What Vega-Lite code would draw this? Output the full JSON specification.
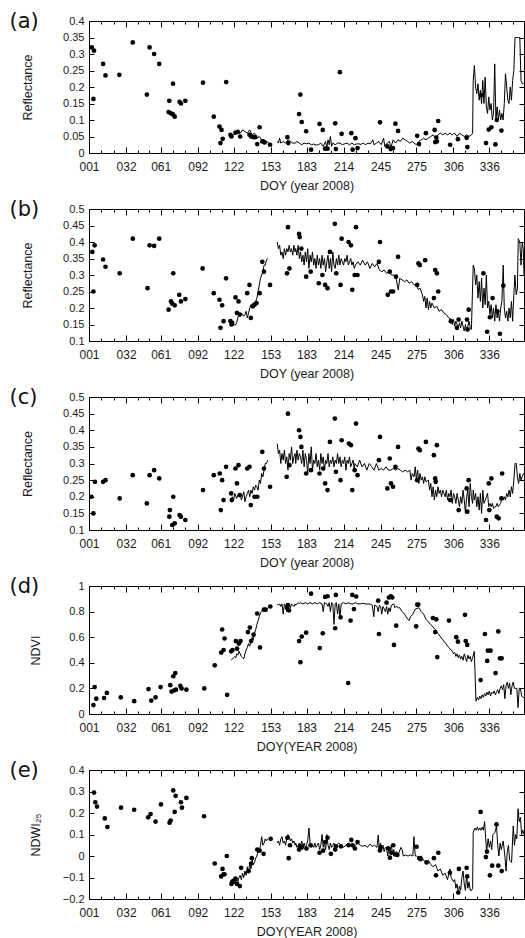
{
"$schema": "https://vega.github.io/schema/vega-lite/v6.json",
"padding": {"left": 8, "top": 9, "right": 2, "bottom": 5},
"background": "white",
"spacing": 56,
"bounds": "flush",
"config": {
 "font": "Liberation Sans",
 "view": {"stroke": "#000", "strokeWidth": 1},
 "axis": {"labelFont": "Liberation Sans", "labelFontSize": 11, "labelColor": "#1a1a1a", "titleFont": "Liberation Sans", "titleFontSize": 12.5, "titleFontWeight": "normal", "titleColor": "#1a1a1a", "domain": false, "gridColor": "#bdbdbd", "gridDash": [1, 2], "gridWidth": 1, "tickColor": "#000", "tickWidth": 1, "labelFlush": false, "labelOverlap": false},
 "axisTop": {"labels": false, "grid": false, "titleFont": "DejaVu Sans", "titleFontSize": 21, "titleFontWeight": "normal", "titleColor": "#111", "titleAngle": 0, "titleAlign": "left", "titleBaseline": "alphabetic", "titleX": -80, "titleY": 6},
 "axisRight": {"labels": false, "grid": false},
 "circle": {"size": 22, "opacity": 1, "color": "#000"},
 "line": {"color": "#000", "strokeWidth": 1, "clip": true}
},
"vconcat": [
 {"width": 435, "height": 132,
  "layer": [
   {"data": {"name": "a_line"}, "mark": "line",
    "encoding": {
     "x": {"field": "d", "type": "quantitative", "scale": {"domain": [1, 365], "nice": false, "zero": false}, "axis": {"orient": "top", "title": "(a)", "values": [1,11.33,21.67,32,41.67,51.33,61,71.33,81.67,92,102.01,112.01,122,132.33,142.67,153,163.01,173.01,183,193.33,203.67,214,224.33,234.67,245,255.01,265.01,275,285.33,295.67,306,316.01,326.01,336,346.01,356.01], "tickSize": {"condition": {"test": "datum.value % 1 === 0", "value": -6}, "value": -3}}},
     "y": {"field": "v", "type": "quantitative", "scale": {"domain": [0, 0.4], "nice": false, "zero": false}, "axis": {"orient": "right", "title": null, "values": [0,0.05,0.1,0.15,0.2,0.25,0.3,0.35,0.4], "tickSize": -5}},
     "detail": {"field": "s"}
    }},
   {"data": {"name": "a_pts"}, "mark": "circle",
    "encoding": {
     "x": {"field": "d", "type": "quantitative", "scale": {"domain": [1, 365], "nice": false, "zero": false}, "axis": {"orient": "bottom", "title": "DOY (year 2008)", "titlePadding": 4, "labelPadding": 14, "labelFontSize": 12, "values": [1,11.33,21.67,32,41.67,51.33,61,71.33,81.67,92,102.01,112.01,122,132.33,142.67,153,163.01,173.01,183,193.33,203.67,214,224.33,234.67,245,255.01,265.01,275,285.33,295.67,306,316.01,326.01,336,346.01,356.01], "labelExpr": "datum.value % 1 ? '' : (datum.value < 10 ? '00' : datum.value < 100 ? '0' : '') + datum.value", "tickSize": {"condition": {"test": "datum.value % 1 === 0", "value": -6}, "value": -3}, "gridOpacity": {"condition": {"test": "datum.value % 1 === 0", "value": 1}, "value": 0}}},
     "y": {"field": "v", "type": "quantitative", "scale": {"domain": [0, 0.4], "nice": false, "zero": false}, "axis": {"orient": "left", "title": "Reflectance", "titlePadding": 28, "labelPadding": 10, "format": "~g", "values": [0,0.05,0.1,0.15,0.2,0.25,0.3,0.35,0.4], "tickSize": -5}}
    }}
  ]},
 {"width": 435, "height": 132,
  "layer": [
   {"data": {"name": "b_line"}, "mark": "line",
    "encoding": {
     "x": {"field": "d", "type": "quantitative", "scale": {"domain": [1, 365], "nice": false, "zero": false}, "axis": {"orient": "top", "title": "(b)", "values": [1,11.33,21.67,32,41.67,51.33,61,71.33,81.67,92,102.01,112.01,122,132.33,142.67,153,163.01,173.01,183,193.33,203.67,214,224.33,234.67,245,255.01,265.01,275,285.33,295.67,306,316.01,326.01,336,346.01,356.01], "tickSize": {"condition": {"test": "datum.value % 1 === 0", "value": -6}, "value": -3}}},
     "y": {"field": "v", "type": "quantitative", "scale": {"domain": [0.1, 0.5], "nice": false, "zero": false}, "axis": {"orient": "right", "title": null, "values": [0.1,0.15,0.2,0.25,0.3,0.35,0.4,0.45,0.5], "tickSize": -5}},
     "detail": {"field": "s"}
    }},
   {"data": {"name": "b_pts"}, "mark": "circle",
    "encoding": {
     "x": {"field": "d", "type": "quantitative", "scale": {"domain": [1, 365], "nice": false, "zero": false}, "axis": {"orient": "bottom", "title": "DOY (year 2008)", "titlePadding": 4, "labelPadding": 14, "labelFontSize": 12, "values": [1,11.33,21.67,32,41.67,51.33,61,71.33,81.67,92,102.01,112.01,122,132.33,142.67,153,163.01,173.01,183,193.33,203.67,214,224.33,234.67,245,255.01,265.01,275,285.33,295.67,306,316.01,326.01,336,346.01,356.01], "labelExpr": "datum.value % 1 ? '' : (datum.value < 10 ? '00' : datum.value < 100 ? '0' : '') + datum.value", "tickSize": {"condition": {"test": "datum.value % 1 === 0", "value": -6}, "value": -3}, "gridOpacity": {"condition": {"test": "datum.value % 1 === 0", "value": 1}, "value": 0}}},
     "y": {"field": "v", "type": "quantitative", "scale": {"domain": [0.1, 0.5], "nice": false, "zero": false}, "axis": {"orient": "left", "title": "Reflectance", "titlePadding": 28, "labelPadding": 10, "format": "~g", "values": [0.1,0.15,0.2,0.25,0.3,0.35,0.4,0.45,0.5], "tickSize": -5}}
    }}
  ]},
 {"width": 435, "height": 133,
  "layer": [
   {"data": {"name": "c_line"}, "mark": "line",
    "encoding": {
     "x": {"field": "d", "type": "quantitative", "scale": {"domain": [1, 365], "nice": false, "zero": false}, "axis": {"orient": "top", "title": "(c)", "values": [1,11.33,21.67,32,41.67,51.33,61,71.33,81.67,92,102.01,112.01,122,132.33,142.67,153,163.01,173.01,183,193.33,203.67,214,224.33,234.67,245,255.01,265.01,275,285.33,295.67,306,316.01,326.01,336,346.01,356.01], "tickSize": {"condition": {"test": "datum.value % 1 === 0", "value": -6}, "value": -3}}},
     "y": {"field": "v", "type": "quantitative", "scale": {"domain": [0.1, 0.5], "nice": false, "zero": false}, "axis": {"orient": "right", "title": null, "values": [0.1,0.15,0.2,0.25,0.3,0.35,0.4,0.45,0.5], "tickSize": -5}},
     "detail": {"field": "s"}
    }},
   {"data": {"name": "c_pts"}, "mark": "circle",
    "encoding": {
     "x": {"field": "d", "type": "quantitative", "scale": {"domain": [1, 365], "nice": false, "zero": false}, "axis": {"orient": "bottom", "title": "DOY (year 2008)", "titlePadding": 4, "labelPadding": 14, "labelFontSize": 12, "values": [1,11.33,21.67,32,41.67,51.33,61,71.33,81.67,92,102.01,112.01,122,132.33,142.67,153,163.01,173.01,183,193.33,203.67,214,224.33,234.67,245,255.01,265.01,275,285.33,295.67,306,316.01,326.01,336,346.01,356.01], "labelExpr": "datum.value % 1 ? '' : (datum.value < 10 ? '00' : datum.value < 100 ? '0' : '') + datum.value", "tickSize": {"condition": {"test": "datum.value % 1 === 0", "value": -6}, "value": -3}, "gridOpacity": {"condition": {"test": "datum.value % 1 === 0", "value": 1}, "value": 0}}},
     "y": {"field": "v", "type": "quantitative", "scale": {"domain": [0.1, 0.5], "nice": false, "zero": false}, "axis": {"orient": "left", "title": "Reflectance", "titlePadding": 28, "labelPadding": 10, "format": "~g", "values": [0.1,0.15,0.2,0.25,0.3,0.35,0.4,0.45,0.5], "tickSize": -5}}
    }}
  ]},
 {"width": 435, "height": 128,
  "layer": [
   {"data": {"name": "d_line"}, "mark": "line",
    "encoding": {
     "x": {"field": "d", "type": "quantitative", "scale": {"domain": [1, 365], "nice": false, "zero": false}, "axis": {"orient": "top", "title": "(d)", "values": [1,11.33,21.67,32,41.67,51.33,61,71.33,81.67,92,102.01,112.01,122,132.33,142.67,153,163.01,173.01,183,193.33,203.67,214,224.33,234.67,245,255.01,265.01,275,285.33,295.67,306,316.01,326.01,336,346.01,356.01], "tickSize": {"condition": {"test": "datum.value % 1 === 0", "value": -6}, "value": -3}}},
     "y": {"field": "v", "type": "quantitative", "scale": {"domain": [0, 1], "nice": false, "zero": false}, "axis": {"orient": "right", "title": null, "values": [0,0.2,0.4,0.6,0.8,1], "tickSize": -5}},
     "detail": {"field": "s"}
    }},
   {"data": {"name": "d_pts"}, "mark": "circle",
    "encoding": {
     "x": {"field": "d", "type": "quantitative", "scale": {"domain": [1, 365], "nice": false, "zero": false}, "axis": {"orient": "bottom", "title": "DOY(YEAR 2008)", "titlePadding": 4, "labelPadding": 14, "labelFontSize": 12, "values": [1,11.33,21.67,32,41.67,51.33,61,71.33,81.67,92,102.01,112.01,122,132.33,142.67,153,163.01,173.01,183,193.33,203.67,214,224.33,234.67,245,255.01,265.01,275,285.33,295.67,306,316.01,326.01,336,346.01,356.01], "labelExpr": "datum.value % 1 ? '' : (datum.value < 10 ? '00' : datum.value < 100 ? '0' : '') + datum.value", "tickSize": {"condition": {"test": "datum.value % 1 === 0", "value": -6}, "value": -3}, "gridOpacity": {"condition": {"test": "datum.value % 1 === 0", "value": 1}, "value": 0}}},
     "y": {"field": "v", "type": "quantitative", "scale": {"domain": [0, 1], "nice": false, "zero": false}, "axis": {"orient": "left", "title": "NDVI", "titlePadding": 26, "labelPadding": 10, "format": "~g", "values": [0,0.2,0.4,0.6,0.8,1], "tickSize": -5}}
    }}
  ]},
 {"width": 435, "height": 129,
  "layer": [
   {"data": {"name": "e_line"}, "mark": "line",
    "encoding": {
     "x": {"field": "d", "type": "quantitative", "scale": {"domain": [1, 365], "nice": false, "zero": false}, "axis": {"orient": "top", "title": "(e)", "values": [1,11.33,21.67,32,41.67,51.33,61,71.33,81.67,92,102.01,112.01,122,132.33,142.67,153,163.01,173.01,183,193.33,203.67,214,224.33,234.67,245,255.01,265.01,275,285.33,295.67,306,316.01,326.01,336,346.01,356.01], "tickSize": {"condition": {"test": "datum.value % 1 === 0", "value": -6}, "value": -3}}},
     "y": {"field": "v", "type": "quantitative", "scale": {"domain": [-0.2, 0.4], "nice": false, "zero": false}, "axis": {"orient": "right", "title": null, "values": [-0.2,-0.1,0,0.1,0.2,0.3,0.4], "tickSize": -5}},
     "detail": {"field": "s"}
    }},
   {"data": {"name": "e_pts"}, "mark": "circle",
    "encoding": {
     "x": {"field": "d", "type": "quantitative", "scale": {"domain": [1, 365], "nice": false, "zero": false}, "axis": {"orient": "bottom", "title": "DOY(YEAR 2008)", "titlePadding": 4, "labelPadding": 14, "labelFontSize": 12, "values": [1,11.33,21.67,32,41.67,51.33,61,71.33,81.67,92,102.01,112.01,122,132.33,142.67,153,163.01,173.01,183,193.33,203.67,214,224.33,234.67,245,255.01,265.01,275,285.33,295.67,306,316.01,326.01,336,346.01,356.01], "labelExpr": "datum.value % 1 ? '' : (datum.value < 10 ? '00' : datum.value < 100 ? '0' : '') + datum.value", "tickSize": {"condition": {"test": "datum.value % 1 === 0", "value": -6}, "value": -3}, "gridOpacity": {"condition": {"test": "datum.value % 1 === 0", "value": 1}, "value": 0}}},
     "y": {"field": "v", "type": "quantitative", "scale": {"domain": [-0.2, 0.4], "nice": false, "zero": false}, "axis": {"orient": "left", "title": "NDWI₂₅", "titlePadding": 20, "labelPadding": 10, "format": "~g", "values": [-0.2,-0.1,0,0.1,0.2,0.3,0.4], "tickSize": -5}}
    }}
  ]}
],
"datasets": {
 "a_pts": [{"d":3.3,"v":0.32},{"d":5.2,"v":0.31},{"d":4.7,"v":0.164},{"d":12.8,"v":0.27},{"d":14.8,"v":0.235},{"d":26.4,"v":0.237},{"d":37.6,"v":0.335},{"d":49.4,"v":0.177},{"d":51.7,"v":0.32},{"d":55.5,"v":0.3},{"d":59.8,"v":0.27},{"d":68.2,"v":0.158},{"d":67.6,"v":0.124},{"d":69.6,"v":0.12},{"d":71.3,"v":0.21},{"d":71.3,"v":0.117},{"d":72.7,"v":0.11},{"d":76.8,"v":0.155},{"d":77.9,"v":0.15},{"d":81.6,"v":0.158},{"d":96.4,"v":0.213},{"d":105.4,"v":0.11},{"d":110.2,"v":0.08},{"d":111,"v":0.03},{"d":111.9,"v":0.07},{"d":112.9,"v":0.043},{"d":115.8,"v":0.215},{"d":119.4,"v":0.055},{"d":120.2,"v":0.05},{"d":123.6,"v":0.062},{"d":125.5,"v":0.064},{"d":127.5,"v":0.05},{"d":135.3,"v":0.055},{"d":136.6,"v":0.05},{"d":138.7,"v":0.048},{"d":140.1,"v":0.048},{"d":141.8,"v":0.027},{"d":143.8,"v":0.078},{"d":146,"v":0.035},{"d":147.9,"v":0.032},{"d":152.5,"v":0.025},{"d":167,"v":0.048},{"d":167.8,"v":0.03},{"d":176.8,"v":0.118},{"d":177.9,"v":0.177},{"d":179,"v":0.094},{"d":182.7,"v":0.066},{"d":186.8,"v":0.01},{"d":193.9,"v":0.088},{"d":196.6,"v":0.07},{"d":198.6,"v":0.013},{"d":200.6,"v":0.013},{"d":207,"v":0.09},{"d":207.6,"v":0.012},{"d":210.9,"v":0.245},{"d":212.4,"v":0.058},{"d":220.5,"v":0.06},{"d":221.6,"v":0.01},{"d":224,"v":0.045},{"d":225.7,"v":0.015},{"d":244.5,"v":0.093},{"d":250.7,"v":0.02},{"d":253.5,"v":0.012},{"d":255.4,"v":0.015},{"d":257.4,"v":0.089},{"d":259.6,"v":0.067},{"d":275.6,"v":0.052},{"d":277.2,"v":0.027},{"d":282.9,"v":0.06},{"d":290.2,"v":0.07},{"d":290.7,"v":0.033},{"d":291.6,"v":0.047},{"d":292.1,"v":0.035},{"d":293.2,"v":0.097},{"d":303.2,"v":0.025},{"d":309.7,"v":0.042},{"d":317,"v":0.046},{"d":317.6,"v":0.018},{"d":329.1,"v":0.175},{"d":333.2,"v":0.03},{"d":335.5,"v":0.071},{"d":337.7,"v":0.078},{"d":341.1,"v":0.026},{"d":342.2,"v":0.1},{"d":346.1,"v":0.068}],
 "a_line": [{"d":120,"v":0.05,"s":1},{"d":122,"v":0.055,"s":1},{"d":124,"v":0.06,"s":1},{"d":125.5,"v":0.065,"s":1},{"d":127.5,"v":0.06,"s":1},{"d":129.5,"v":0.07,"s":1},{"d":131.5,"v":0.065,"s":1},{"d":133.5,"v":0.06,"s":1},{"d":135.5,"v":0.07,"s":1},{"d":137.5,"v":0.055,"s":1},{"d":139.5,"v":0.06,"s":1},{"d":141.5,"v":0.045,"s":1},{"d":143.5,"v":0.05,"s":1},{"d":145.5,"v":0.04,"s":1},{"d":147.5,"v":0.04,"s":1},{"d":149.5,"v":0.035,"s":1},{"d":151.5,"v":0.03,"s":1},
  {"d":158.5,"v":0.035,"s":2},{"d":159.5,"v":0.03,"s":2},{"d":160.5,"v":0.045,"s":2},{"d":161.5,"v":0.03,"s":2},{"d":163.5,"v":0.035,"s":2},{"d":165.5,"v":0.03,"s":2},{"d":167.5,"v":0.04,"s":2},{"d":169.5,"v":0.035,"s":2},{"d":171.5,"v":0.03,"s":2},{"d":173.5,"v":0.03,"s":2},{"d":175,"v":0.035,"s":2},{"d":177,"v":0.03,"s":2},{"d":179,"v":0.025,"s":2},{"d":181,"v":0.03,"s":2},{"d":183,"v":0.028,"s":2},{"d":185,"v":0.03,"s":2},{"d":187,"v":0.025,"s":2},{"d":189,"v":0.027,"s":2},{"d":191,"v":0.024,"s":2},{"d":193,"v":0.025,"s":2},{"d":195,"v":0.03,"s":2},{"d":197,"v":0.02,"s":2},{"d":199,"v":0.035,"s":2},{"d":200,"v":0.015,"s":2},{"d":201,"v":0.04,"s":2},{"d":202,"v":0.025,"s":2},{"d":203,"v":0.05,"s":2},{"d":204,"v":0.02,"s":2},{"d":205,"v":0.03,"s":2},{"d":207,"v":0.025,"s":2},{"d":209,"v":0.03,"s":2},{"d":211,"v":0.03,"s":2},{"d":213,"v":0.025,"s":2},{"d":215,"v":0.028,"s":2},{"d":217,"v":0.03,"s":2},{"d":219,"v":0.025,"s":2},{"d":221,"v":0.03,"s":2},{"d":223,"v":0.025,"s":2},{"d":224.5,"v":0.027,"s":2},{"d":226.5,"v":0.028,"s":2},{"d":228.5,"v":0.026,"s":2},{"d":230.5,"v":0.03,"s":2},{"d":232.5,"v":0.025,"s":2},{"d":234.5,"v":0.03,"s":2},{"d":236.5,"v":0.028,"s":2},{"d":238.5,"v":0.04,"s":2},{"d":239.5,"v":0.025,"s":2},{"d":241.5,"v":0.03,"s":2},{"d":243.5,"v":0.035,"s":2},{"d":245.5,"v":0.025,"s":2},{"d":247.5,"v":0.045,"s":2},{"d":248.5,"v":0.02,"s":2},{"d":250.5,"v":0.03,"s":2},{"d":252.5,"v":0.035,"s":2},{"d":253.5,"v":0.015,"s":2},{"d":255.5,"v":0.04,"s":2},{"d":257.5,"v":0.03,"s":2},{"d":259.5,"v":0.04,"s":2},{"d":261.5,"v":0.035,"s":2},{"d":263.5,"v":0.045,"s":2},{"d":265.5,"v":0.04,"s":2},{"d":267.5,"v":0.035,"s":2},{"d":269.5,"v":0.03,"s":2},{"d":271.5,"v":0.035,"s":2},{"d":273,"v":0.03,"s":2},{"d":275,"v":0.025,"s":2},{"d":277,"v":0.035,"s":2},{"d":279,"v":0.04,"s":2},{"d":281,"v":0.045,"s":2},{"d":283,"v":0.04,"s":2},{"d":285,"v":0.045,"s":2},{"d":287,"v":0.05,"s":2},{"d":289,"v":0.055,"s":2},{"d":291,"v":0.045,"s":2},{"d":293,"v":0.055,"s":2},{"d":295,"v":0.06,"s":2},{"d":297,"v":0.055,"s":2},{"d":299,"v":0.06,"s":2},{"d":301,"v":0.055,"s":2},{"d":303,"v":0.06,"s":2},{"d":305,"v":0.055,"s":2},{"d":307,"v":0.06,"s":2},{"d":309,"v":0.05,"s":2},{"d":311,"v":0.06,"s":2},{"d":313,"v":0.055,"s":2},{"d":315,"v":0.05,"s":2},{"d":317,"v":0.055,"s":2},{"d":319,"v":0.05,"s":2},{"d":321,"v":0.055,"s":2},{"d":322,"v":0.06,"s":2},{"d":322.5,"v":0.22,"s":2},{"d":323.5,"v":0.265,"s":2},{"d":324.5,"v":0.2,"s":2},{"d":325.5,"v":0.18,"s":2},{"d":326.5,"v":0.21,"s":2},{"d":327.5,"v":0.16,"s":2},{"d":328.5,"v":0.19,"s":2},{"d":329.5,"v":0.15,"s":2},{"d":330.5,"v":0.22,"s":2},{"d":331.5,"v":0.15,"s":2},{"d":332.5,"v":0.23,"s":2},{"d":333.5,"v":0.14,"s":2},{"d":334.5,"v":0.12,"s":2},{"d":335.5,"v":0.17,"s":2},{"d":336.5,"v":0.13,"s":2},{"d":337.5,"v":0.15,"s":2},{"d":338.5,"v":0.1,"s":2},{"d":339.5,"v":0.12,"s":2},{"d":340.5,"v":0.27,"s":2},{"d":341.5,"v":0.1,"s":2},{"d":342.5,"v":0.14,"s":2},{"d":343.5,"v":0.1,"s":2},{"d":344.5,"v":0.13,"s":2},{"d":345.5,"v":0.1,"s":2},{"d":346.5,"v":0.12,"s":2},{"d":347.5,"v":0.1,"s":2},{"d":348.5,"v":0.15,"s":2},{"d":349.5,"v":0.24,"s":2},{"d":350.5,"v":0.2,"s":2},{"d":351.5,"v":0.16,"s":2},{"d":352.5,"v":0.15,"s":2},{"d":353.5,"v":0.2,"s":2},{"d":354.5,"v":0.16,"s":2},{"d":355.5,"v":0.22,"s":2},{"d":356.5,"v":0.25,"s":2},{"d":357.5,"v":0.35,"s":2},{"d":358.5,"v":0.35,"s":2},{"d":359.5,"v":0.35,"s":2},{"d":360.5,"v":0.35,"s":2},{"d":361.5,"v":0.35,"s":2},{"d":362.5,"v":0.22,"s":2},{"d":363.5,"v":0.21,"s":2},{"d":364.5,"v":0.21,"s":2},{"d":365,"v":0.21,"s":2}],
 "b_pts": [{"d":3.8,"v":0.37},{"d":5.7,"v":0.39},{"d":4.7,"v":0.25},{"d":12.8,"v":0.347},{"d":14.8,"v":0.325},{"d":26.7,"v":0.305},{"d":37.6,"v":0.41},{"d":50,"v":0.26},{"d":51.7,"v":0.39},{"d":55.5,"v":0.388},{"d":59.8,"v":0.41},{"d":67.6,"v":0.195},{"d":69.6,"v":0.22},{"d":70.7,"v":0.213},{"d":71.5,"v":0.305},{"d":72.7,"v":0.208},{"d":76.5,"v":0.24},{"d":77.9,"v":0.22},{"d":81.6,"v":0.227},{"d":96.1,"v":0.32},{"d":105.4,"v":0.245},{"d":110.2,"v":0.225},{"d":111,"v":0.14},{"d":112.4,"v":0.208},{"d":113.6,"v":0.16},{"d":115.7,"v":0.29},{"d":119.4,"v":0.16},{"d":120.2,"v":0.15},{"d":120.8,"v":0.155},{"d":123.6,"v":0.232},{"d":124.8,"v":0.185},{"d":126.1,"v":0.22},{"d":127.2,"v":0.18},{"d":133.4,"v":0.245},{"d":135.3,"v":0.27},{"d":136.4,"v":0.17},{"d":138.1,"v":0.205},{"d":139.5,"v":0.21},{"d":141.2,"v":0.215},{"d":143.8,"v":0.245},{"d":146,"v":0.34},{"d":147.4,"v":0.31},{"d":152.5,"v":0.27},{"d":166.7,"v":0.305},{"d":167.5,"v":0.445},{"d":168.7,"v":0.32},{"d":176.8,"v":0.425},{"d":177.3,"v":0.415},{"d":178.7,"v":0.38},{"d":182.7,"v":0.295},{"d":186.5,"v":0.31},{"d":193.3,"v":0.275},{"d":196.3,"v":0.3},{"d":198.6,"v":0.27},{"d":200.6,"v":0.26},{"d":202.6,"v":0.37},{"d":206.7,"v":0.455},{"d":207.9,"v":0.305},{"d":211.5,"v":0.27},{"d":212.4,"v":0.41},{"d":218.2,"v":0.4},{"d":220.2,"v":0.39},{"d":221.3,"v":0.255},{"d":223.3,"v":0.3},{"d":224.4,"v":0.445},{"d":225.7,"v":0.3},{"d":243.6,"v":0.34},{"d":244.5,"v":0.4},{"d":251,"v":0.24},{"d":252.7,"v":0.31},{"d":253.7,"v":0.25},{"d":255.4,"v":0.25},{"d":257.9,"v":0.295},{"d":259.6,"v":0.355},{"d":275.6,"v":0.27},{"d":276.7,"v":0.335},{"d":277.8,"v":0.33},{"d":282.3,"v":0.345},{"d":289.6,"v":0.23},{"d":290.7,"v":0.315},{"d":292.1,"v":0.305},{"d":293.2,"v":0.25},{"d":303.8,"v":0.16},{"d":308.9,"v":0.14},{"d":310.3,"v":0.165},{"d":317.3,"v":0.165},{"d":317.8,"v":0.135},{"d":318.7,"v":0.195},{"d":331,"v":0.305},{"d":334.2,"v":0.128},{"d":336.5,"v":0.172},{"d":338.7,"v":0.23},{"d":342.7,"v":0.19},{"d":344.8,"v":0.122},{"d":347.7,"v":0.268}],
 "b_line": [{"d":120,"v":0.15,"s":1},{"d":122,"v":0.148,"s":1},{"d":124,"v":0.15,"s":1},{"d":124.5,"v":0.155,"s":1},{"d":125.5,"v":0.17,"s":1},{"d":126.5,"v":0.18,"s":1},{"d":127.5,"v":0.175,"s":1},{"d":128.5,"v":0.185,"s":1},{"d":129.5,"v":0.18,"s":1},{"d":130.5,"v":0.175,"s":1},{"d":131.5,"v":0.18,"s":1},{"d":132.5,"v":0.19,"s":1},{"d":133.5,"v":0.17,"s":1},{"d":134.5,"v":0.185,"s":1},{"d":135.5,"v":0.2,"s":1},{"d":136.5,"v":0.21,"s":1},{"d":137.5,"v":0.2,"s":1},{"d":138.5,"v":0.215,"s":1},{"d":139.5,"v":0.21,"s":1},{"d":140.5,"v":0.22,"s":1},{"d":141.5,"v":0.23,"s":1},{"d":142.5,"v":0.25,"s":1},{"d":143.5,"v":0.27,"s":1},{"d":144.5,"v":0.29,"s":1},{"d":145.5,"v":0.3,"s":1},{"d":146.5,"v":0.31,"s":1},{"d":147.5,"v":0.33,"s":1},{"d":148.5,"v":0.33,"s":1},{"d":149.5,"v":0.345,"s":1},{"d":150.5,"v":0.35,"s":1},
  {"d":158.5,"v":0.4,"s":2},{"d":159.5,"v":0.38,"s":2},{"d":160.5,"v":0.39,"s":2},{"d":161.5,"v":0.36,"s":2},{"d":162.5,"v":0.37,"s":2},{"d":163.5,"v":0.35,"s":2},{"d":164.5,"v":0.38,"s":2},{"d":165.5,"v":0.36,"s":2},{"d":166.5,"v":0.38,"s":2},{"d":167.5,"v":0.37,"s":2},{"d":168.5,"v":0.39,"s":2},{"d":169.5,"v":0.37,"s":2},{"d":170.5,"v":0.38,"s":2},{"d":171.5,"v":0.36,"s":2},{"d":172.5,"v":0.39,"s":2},{"d":173.5,"v":0.37,"s":2},{"d":174,"v":0.38,"s":2},{"d":175,"v":0.36,"s":2},{"d":176,"v":0.39,"s":2},{"d":177,"v":0.35,"s":2},{"d":178,"v":0.37,"s":2},{"d":179,"v":0.34,"s":2},{"d":180,"v":0.36,"s":2},{"d":181,"v":0.33,"s":2},{"d":182,"v":0.37,"s":2},{"d":183,"v":0.34,"s":2},{"d":184,"v":0.38,"s":2},{"d":185,"v":0.32,"s":2},{"d":186,"v":0.36,"s":2},{"d":187,"v":0.34,"s":2},{"d":188,"v":0.37,"s":2},{"d":189,"v":0.33,"s":2},{"d":190,"v":0.35,"s":2},{"d":191,"v":0.32,"s":2},{"d":192,"v":0.36,"s":2},{"d":193,"v":0.33,"s":2},{"d":194,"v":0.35,"s":2},{"d":195,"v":0.32,"s":2},{"d":196,"v":0.36,"s":2},{"d":197,"v":0.33,"s":2},{"d":198,"v":0.35,"s":2},{"d":199,"v":0.31,"s":2},{"d":200,"v":0.34,"s":2},{"d":201,"v":0.36,"s":2},{"d":202,"v":0.32,"s":2},{"d":203,"v":0.35,"s":2},{"d":204,"v":0.31,"s":2},{"d":205,"v":0.37,"s":2},{"d":206,"v":0.33,"s":2},{"d":207,"v":0.32,"s":2},{"d":208,"v":0.35,"s":2},{"d":209,"v":0.33,"s":2},{"d":210,"v":0.36,"s":2},{"d":211,"v":0.33,"s":2},{"d":212,"v":0.35,"s":2},{"d":213,"v":0.34,"s":2},{"d":214,"v":0.33,"s":2},{"d":215,"v":0.35,"s":2},{"d":216,"v":0.34,"s":2},{"d":217,"v":0.36,"s":2},{"d":218,"v":0.33,"s":2},{"d":219,"v":0.34,"s":2},{"d":220,"v":0.35,"s":2},{"d":221,"v":0.33,"s":2},{"d":222,"v":0.34,"s":2},{"d":223,"v":0.32,"s":2},{"d":224,"v":0.33,"s":2},{"d":226,"v":0.34,"s":2},{"d":228,"v":0.33,"s":2},{"d":230,"v":0.345,"s":2},{"d":232,"v":0.33,"s":2},{"d":234,"v":0.34,"s":2},{"d":236,"v":0.32,"s":2},{"d":238,"v":0.335,"s":2},{"d":240,"v":0.325,"s":2},{"d":242,"v":0.335,"s":2},{"d":244,"v":0.315,"s":2},{"d":246,"v":0.31,"s":2},{"d":248,"v":0.315,"s":2},{"d":250,"v":0.305,"s":2},{"d":252,"v":0.31,"s":2},{"d":254,"v":0.3,"s":2},{"d":256,"v":0.3,"s":2},{"d":258,"v":0.29,"s":2},{"d":259.8,"v":0.255,"s":2},{"d":261,"v":0.29,"s":2},{"d":263,"v":0.285,"s":2},{"d":265,"v":0.28,"s":2},{"d":267,"v":0.285,"s":2},{"d":269,"v":0.275,"s":2},{"d":271,"v":0.28,"s":2},{"d":273,"v":0.27,"s":2},{"d":275,"v":0.27,"s":2},{"d":276.5,"v":0.256,"s":2},{"d":278,"v":0.26,"s":2},{"d":280,"v":0.24,"s":2},{"d":281,"v":0.22,"s":2},{"d":282,"v":0.235,"s":2},{"d":283,"v":0.2,"s":2},{"d":284,"v":0.23,"s":2},{"d":285,"v":0.195,"s":2},{"d":286,"v":0.22,"s":2},{"d":287,"v":0.2,"s":2},{"d":288,"v":0.215,"s":2},{"d":290,"v":0.2,"s":2},{"d":292,"v":0.205,"s":2},{"d":294,"v":0.19,"s":2},{"d":296,"v":0.195,"s":2},{"d":298,"v":0.185,"s":2},{"d":300,"v":0.18,"s":2},{"d":302,"v":0.17,"s":2},{"d":304,"v":0.165,"s":2},{"d":305,"v":0.15,"s":2},{"d":306,"v":0.165,"s":2},{"d":307,"v":0.145,"s":2},{"d":308,"v":0.16,"s":2},{"d":309,"v":0.15,"s":2},{"d":310,"v":0.14,"s":2},{"d":311,"v":0.155,"s":2},{"d":312,"v":0.14,"s":2},{"d":313,"v":0.16,"s":2},{"d":314,"v":0.145,"s":2},{"d":315,"v":0.13,"s":2},{"d":316,"v":0.15,"s":2},{"d":317,"v":0.13,"s":2},{"d":318,"v":0.145,"s":2},{"d":319,"v":0.16,"s":2},{"d":320,"v":0.14,"s":2},{"d":321,"v":0.135,"s":2},{"d":322.5,"v":0.33,"s":2},{"d":323.5,"v":0.32,"s":2},{"d":324.5,"v":0.27,"s":2},{"d":325.5,"v":0.3,"s":2},{"d":326.5,"v":0.23,"s":2},{"d":327.5,"v":0.28,"s":2},{"d":328.5,"v":0.22,"s":2},{"d":329.5,"v":0.29,"s":2},{"d":330.5,"v":0.2,"s":2},{"d":331.5,"v":0.26,"s":2},{"d":332.5,"v":0.21,"s":2},{"d":333.5,"v":0.3,"s":2},{"d":334.5,"v":0.2,"s":2},{"d":335.5,"v":0.22,"s":2},{"d":336.5,"v":0.18,"s":2},{"d":337.5,"v":0.21,"s":2},{"d":338.5,"v":0.17,"s":2},{"d":339.5,"v":0.2,"s":2},{"d":340.5,"v":0.16,"s":2},{"d":341.5,"v":0.21,"s":2},{"d":342.5,"v":0.17,"s":2},{"d":343.5,"v":0.19,"s":2},{"d":344.5,"v":0.16,"s":2},{"d":345.5,"v":0.2,"s":2},{"d":346.5,"v":0.22,"s":2},{"d":347.6,"v":0.33,"s":2},{"d":348.5,"v":0.2,"s":2},{"d":349.5,"v":0.17,"s":2},{"d":350.5,"v":0.19,"s":2},{"d":351.5,"v":0.16,"s":2},{"d":352.5,"v":0.2,"s":2},{"d":353.5,"v":0.17,"s":2},{"d":354.5,"v":0.22,"s":2},{"d":355.5,"v":0.16,"s":2},{"d":356.5,"v":0.24,"s":2},{"d":357.4,"v":0.3,"s":2},{"d":358.5,"v":0.24,"s":2},{"d":359.5,"v":0.26,"s":2},{"d":360.2,"v":0.41,"s":2},{"d":361.5,"v":0.4,"s":2},{"d":362.5,"v":0.33,"s":2},{"d":363.5,"v":0.4,"s":2},{"d":364.4,"v":0.38,"s":2},{"d":365,"v":0.3,"s":2}],
 "c_pts": [{"d":3,"v":0.2},{"d":4.7,"v":0.15},{"d":6,"v":0.245},{"d":12.8,"v":0.245},{"d":14.8,"v":0.25},{"d":26.7,"v":0.195},{"d":37.6,"v":0.265},{"d":49.4,"v":0.18},{"d":51.7,"v":0.265},{"d":55.5,"v":0.28},{"d":59.8,"v":0.255},{"d":68.2,"v":0.14},{"d":68.7,"v":0.16},{"d":70.7,"v":0.115},{"d":71.5,"v":0.2},{"d":72.7,"v":0.12},{"d":76.8,"v":0.145},{"d":77.9,"v":0.14},{"d":81.6,"v":0.13},{"d":96.4,"v":0.22},{"d":105.4,"v":0.265},{"d":110.4,"v":0.27},{"d":111.3,"v":0.16},{"d":112.4,"v":0.25},{"d":113.6,"v":0.19},{"d":115.7,"v":0.29},{"d":120,"v":0.21},{"d":120.5,"v":0.19},{"d":123.6,"v":0.285},{"d":124.8,"v":0.24},{"d":126.1,"v":0.295},{"d":127.2,"v":0.205},{"d":133.4,"v":0.285},{"d":135.3,"v":0.29},{"d":136.4,"v":0.175},{"d":139.5,"v":0.2},{"d":141.8,"v":0.2},{"d":146,"v":0.335},{"d":147.4,"v":0.285},{"d":152.5,"v":0.23},{"d":166.4,"v":0.26},{"d":167.5,"v":0.45},{"d":168.7,"v":0.295},{"d":176.8,"v":0.4},{"d":177.9,"v":0.38},{"d":178.7,"v":0.35},{"d":182.7,"v":0.27},{"d":186.8,"v":0.28},{"d":193.9,"v":0.27},{"d":196.9,"v":0.285},{"d":198.6,"v":0.24},{"d":200.6,"v":0.22},{"d":202.6,"v":0.365},{"d":206.7,"v":0.435},{"d":207.6,"v":0.275},{"d":211.5,"v":0.25},{"d":212.4,"v":0.37},{"d":218.5,"v":0.36},{"d":220.2,"v":0.355},{"d":221.3,"v":0.22},{"d":223.3,"v":0.28},{"d":224.4,"v":0.42},{"d":225.7,"v":0.265},{"d":243.6,"v":0.31},{"d":244.5,"v":0.38},{"d":250.7,"v":0.225},{"d":252.7,"v":0.315},{"d":253.7,"v":0.24},{"d":255.4,"v":0.23},{"d":257.4,"v":0.29},{"d":259.6,"v":0.35},{"d":275.6,"v":0.25},{"d":276.7,"v":0.345},{"d":277.8,"v":0.34},{"d":282.9,"v":0.365},{"d":289.6,"v":0.325},{"d":290.7,"v":0.255},{"d":291.1,"v":0.245},{"d":292.1,"v":0.355},{"d":303.2,"v":0.19},{"d":310.3,"v":0.16},{"d":317,"v":0.225},{"d":317.6,"v":0.155},{"d":318.7,"v":0.25},{"d":333.2,"v":0.13},{"d":335.5,"v":0.24},{"d":336,"v":0.16},{"d":337.7,"v":0.255},{"d":342.2,"v":0.14},{"d":343.8,"v":0.135},{"d":346.1,"v":0.195},{"d":346.7,"v":0.27}],
 "c_line": [{"d":120,"v":0.195,"s":1},{"d":121,"v":0.2,"s":1},{"d":122,"v":0.19,"s":1},{"d":123,"v":0.21,"s":1},{"d":124,"v":0.2,"s":1},{"d":124.5,"v":0.195,"s":1},{"d":125.5,"v":0.205,"s":1},{"d":126.5,"v":0.2,"s":1},{"d":127.5,"v":0.21,"s":1},{"d":128.5,"v":0.19,"s":1},{"d":129.5,"v":0.2,"s":1},{"d":130.5,"v":0.215,"s":1},{"d":131.5,"v":0.185,"s":1},{"d":132.5,"v":0.2,"s":1},{"d":133.5,"v":0.21,"s":1},{"d":134.5,"v":0.22,"s":1},{"d":135.5,"v":0.2,"s":1},{"d":136.5,"v":0.22,"s":1},{"d":137.5,"v":0.21,"s":1},{"d":138.5,"v":0.23,"s":1},{"d":139.5,"v":0.22,"s":1},{"d":140.5,"v":0.235,"s":1},{"d":141.5,"v":0.23,"s":1},{"d":142.5,"v":0.22,"s":1},{"d":143.5,"v":0.25,"s":1},{"d":144.5,"v":0.24,"s":1},{"d":145.5,"v":0.27,"s":1},{"d":146.5,"v":0.26,"s":1},{"d":147.5,"v":0.28,"s":1},{"d":148.5,"v":0.3,"s":1},{"d":149.5,"v":0.3,"s":1},{"d":150.5,"v":0.31,"s":1},
  {"d":158.5,"v":0.36,"s":2},{"d":159.5,"v":0.33,"s":2},{"d":160.5,"v":0.34,"s":2},{"d":161.5,"v":0.3,"s":2},{"d":162.5,"v":0.33,"s":2},{"d":163.5,"v":0.31,"s":2},{"d":164.5,"v":0.34,"s":2},{"d":165.5,"v":0.3,"s":2},{"d":166.5,"v":0.32,"s":2},{"d":167.5,"v":0.28,"s":2},{"d":168.5,"v":0.33,"s":2},{"d":169.5,"v":0.31,"s":2},{"d":170.5,"v":0.35,"s":2},{"d":171.5,"v":0.3,"s":2},{"d":172.5,"v":0.32,"s":2},{"d":173.5,"v":0.33,"s":2},{"d":174,"v":0.3,"s":2},{"d":175,"v":0.34,"s":2},{"d":176,"v":0.31,"s":2},{"d":177,"v":0.33,"s":2},{"d":178,"v":0.32,"s":2},{"d":179,"v":0.3,"s":2},{"d":180,"v":0.34,"s":2},{"d":181,"v":0.29,"s":2},{"d":182,"v":0.33,"s":2},{"d":183,"v":0.31,"s":2},{"d":184,"v":0.27,"s":2},{"d":185,"v":0.33,"s":2},{"d":186,"v":0.3,"s":2},{"d":187,"v":0.35,"s":2},{"d":188,"v":0.28,"s":2},{"d":189,"v":0.31,"s":2},{"d":190,"v":0.3,"s":2},{"d":191,"v":0.33,"s":2},{"d":192,"v":0.29,"s":2},{"d":193,"v":0.31,"s":2},{"d":194,"v":0.28,"s":2},{"d":195,"v":0.33,"s":2},{"d":196,"v":0.3,"s":2},{"d":197,"v":0.32,"s":2},{"d":198,"v":0.28,"s":2},{"d":199,"v":0.31,"s":2},{"d":200,"v":0.3,"s":2},{"d":201,"v":0.33,"s":2},{"d":202,"v":0.29,"s":2},{"d":203,"v":0.31,"s":2},{"d":204,"v":0.3,"s":2},{"d":205,"v":0.32,"s":2},{"d":206,"v":0.29,"s":2},{"d":207,"v":0.31,"s":2},{"d":208,"v":0.3,"s":2},{"d":209,"v":0.33,"s":2},{"d":210,"v":0.3,"s":2},{"d":211,"v":0.32,"s":2},{"d":212,"v":0.29,"s":2},{"d":213,"v":0.31,"s":2},{"d":214,"v":0.3,"s":2},{"d":215,"v":0.32,"s":2},{"d":216,"v":0.28,"s":2},{"d":217,"v":0.31,"s":2},{"d":218,"v":0.3,"s":2},{"d":219,"v":0.32,"s":2},{"d":220,"v":0.29,"s":2},{"d":221,"v":0.3,"s":2},{"d":222,"v":0.31,"s":2},{"d":223,"v":0.28,"s":2},{"d":223.5,"v":0.3,"s":2},{"d":225.5,"v":0.29,"s":2},{"d":227.5,"v":0.31,"s":2},{"d":229.5,"v":0.29,"s":2},{"d":231.5,"v":0.3,"s":2},{"d":233.5,"v":0.28,"s":2},{"d":235.5,"v":0.3,"s":2},{"d":237.5,"v":0.29,"s":2},{"d":239.5,"v":0.28,"s":2},{"d":241.5,"v":0.3,"s":2},{"d":243.5,"v":0.28,"s":2},{"d":245.5,"v":0.285,"s":2},{"d":247.5,"v":0.28,"s":2},{"d":249.5,"v":0.29,"s":2},{"d":251.5,"v":0.28,"s":2},{"d":253.5,"v":0.28,"s":2},{"d":255.5,"v":0.285,"s":2},{"d":257.5,"v":0.28,"s":2},{"d":259.5,"v":0.285,"s":2},{"d":261.5,"v":0.28,"s":2},{"d":263.5,"v":0.275,"s":2},{"d":265.5,"v":0.28,"s":2},{"d":267.5,"v":0.275,"s":2},{"d":269.5,"v":0.28,"s":2},{"d":270.5,"v":0.25,"s":2},{"d":271.5,"v":0.27,"s":2},{"d":273,"v":0.26,"s":2},{"d":274,"v":0.29,"s":2},{"d":275,"v":0.25,"s":2},{"d":276,"v":0.28,"s":2},{"d":277,"v":0.24,"s":2},{"d":278,"v":0.27,"s":2},{"d":279,"v":0.25,"s":2},{"d":280,"v":0.26,"s":2},{"d":281,"v":0.24,"s":2},{"d":282,"v":0.26,"s":2},{"d":283,"v":0.245,"s":2},{"d":285,"v":0.25,"s":2},{"d":286,"v":0.22,"s":2},{"d":287,"v":0.24,"s":2},{"d":288,"v":0.2,"s":2},{"d":289,"v":0.23,"s":2},{"d":290,"v":0.19,"s":2},{"d":291,"v":0.22,"s":2},{"d":292,"v":0.2,"s":2},{"d":293,"v":0.23,"s":2},{"d":294,"v":0.21,"s":2},{"d":295,"v":0.22,"s":2},{"d":296,"v":0.2,"s":2},{"d":297,"v":0.22,"s":2},{"d":298,"v":0.21,"s":2},{"d":299,"v":0.2,"s":2},{"d":300,"v":0.22,"s":2},{"d":301,"v":0.19,"s":2},{"d":302,"v":0.21,"s":2},{"d":303,"v":0.2,"s":2},{"d":304,"v":0.22,"s":2},{"d":305,"v":0.18,"s":2},{"d":306,"v":0.21,"s":2},{"d":307,"v":0.2,"s":2},{"d":308,"v":0.18,"s":2},{"d":309,"v":0.21,"s":2},{"d":310,"v":0.19,"s":2},{"d":311,"v":0.17,"s":2},{"d":312,"v":0.2,"s":2},{"d":313,"v":0.18,"s":2},{"d":314,"v":0.22,"s":2},{"d":315,"v":0.19,"s":2},{"d":316,"v":0.15,"s":2},{"d":317,"v":0.2,"s":2},{"d":318,"v":0.22,"s":2},{"d":319,"v":0.17,"s":2},{"d":320,"v":0.24,"s":2},{"d":321,"v":0.2,"s":2},{"d":322,"v":0.18,"s":2},{"d":322.5,"v":0.22,"s":2},{"d":323.5,"v":0.19,"s":2},{"d":324.5,"v":0.21,"s":2},{"d":325.5,"v":0.17,"s":2},{"d":326.5,"v":0.2,"s":2},{"d":327.5,"v":0.16,"s":2},{"d":328.5,"v":0.21,"s":2},{"d":329.5,"v":0.15,"s":2},{"d":330.5,"v":0.22,"s":2},{"d":331.5,"v":0.18,"s":2},{"d":332.5,"v":0.19,"s":2},{"d":333.5,"v":0.2,"s":2},{"d":334.5,"v":0.21,"s":2},{"d":335.5,"v":0.17,"s":2},{"d":336.5,"v":0.18,"s":2},{"d":337.5,"v":0.17,"s":2},{"d":338.5,"v":0.18,"s":2},{"d":339.5,"v":0.165,"s":2},{"d":340.5,"v":0.17,"s":2},{"d":341.5,"v":0.17,"s":2},{"d":342.5,"v":0.18,"s":2},{"d":343.5,"v":0.17,"s":2},{"d":344.5,"v":0.175,"s":2},{"d":345.5,"v":0.18,"s":2},{"d":346.5,"v":0.2,"s":2},{"d":347.5,"v":0.19,"s":2},{"d":348.5,"v":0.2,"s":2},{"d":349.5,"v":0.19,"s":2},{"d":350.5,"v":0.21,"s":2},{"d":351.5,"v":0.2,"s":2},{"d":352.5,"v":0.22,"s":2},{"d":353.5,"v":0.2,"s":2},{"d":354.5,"v":0.23,"s":2},{"d":355.5,"v":0.21,"s":2},{"d":356.5,"v":0.25,"s":2},{"d":357.5,"v":0.3,"s":2},{"d":358.5,"v":0.3,"s":2},{"d":359.5,"v":0.26,"s":2},{"d":360.5,"v":0.24,"s":2},{"d":361.5,"v":0.27,"s":2},{"d":362.5,"v":0.25,"s":2},{"d":363.5,"v":0.26,"s":2},{"d":364.5,"v":0.27,"s":2},{"d":365,"v":0.27,"s":2}],
 "d_pts": [{"d":4.7,"v":0.07},{"d":5.7,"v":0.21},{"d":7.1,"v":0.12},{"d":13.6,"v":0.125},{"d":15.9,"v":0.165},{"d":27.6,"v":0.13},{"d":38.8,"v":0.1},{"d":50.8,"v":0.195},{"d":53.1,"v":0.105},{"d":56.7,"v":0.13},{"d":60.9,"v":0.21},{"d":69,"v":0.225},{"d":70.1,"v":0.175},{"d":71.5,"v":0.295},{"d":72.4,"v":0.185},{"d":73.2,"v":0.32},{"d":73.8,"v":0.19},{"d":77.4,"v":0.22},{"d":78.5,"v":0.2},{"d":82.5,"v":0.19},{"d":97.5,"v":0.2},{"d":106.2,"v":0.38},{"d":111.6,"v":0.48},{"d":112.4,"v":0.66},{"d":113.6,"v":0.5},{"d":114.4,"v":0.59},{"d":116.6,"v":0.15},{"d":120,"v":0.49},{"d":121.1,"v":0.5},{"d":123.9,"v":0.57},{"d":124.9,"v":0.51},{"d":126.4,"v":0.55},{"d":127.8,"v":0.57},{"d":134,"v":0.64},{"d":135.6,"v":0.675},{"d":136.7,"v":0.57},{"d":138.7,"v":0.62},{"d":141.8,"v":0.785},{"d":144.1,"v":0.52},{"d":147.4,"v":0.815},{"d":148.8,"v":0.815},{"d":152.7,"v":0.84},{"d":166.7,"v":0.83},{"d":167.5,"v":0.85},{"d":168.4,"v":0.81},{"d":176.8,"v":0.57},{"d":177.9,"v":0.405},{"d":179,"v":0.605},{"d":182.7,"v":0.635},{"d":186.8,"v":0.94},{"d":194.1,"v":0.515},{"d":196.6,"v":0.63},{"d":198.6,"v":0.915},{"d":200.6,"v":0.92},{"d":207,"v":0.67},{"d":207.6,"v":0.93},{"d":211.5,"v":0.755},{"d":217.9,"v":0.242},{"d":219.9,"v":0.73},{"d":221.3,"v":0.93},{"d":222.7,"v":0.82},{"d":224.6,"v":0.918},{"d":243,"v":0.885},{"d":243.6,"v":0.625},{"d":250,"v":0.87},{"d":252,"v":0.91},{"d":253.5,"v":0.92},{"d":254.8,"v":0.91},{"d":256.2,"v":0.54},{"d":258.1,"v":0.69},{"d":274.8,"v":0.685},{"d":275.7,"v":0.855},{"d":276.5,"v":0.855},{"d":288.8,"v":0.75},{"d":290.7,"v":0.64},{"d":291.6,"v":0.74},{"d":292.4,"v":0.445},{"d":302.2,"v":0.73},{"d":308.3,"v":0.6},{"d":309.7,"v":0.565},{"d":315.6,"v":0.775},{"d":316.2,"v":0.57},{"d":317.5,"v":0.54},{"d":328.7,"v":0.265},{"d":332.3,"v":0.625},{"d":334.2,"v":0.415},{"d":334.8,"v":0.495},{"d":337,"v":0.495},{"d":341.2,"v":0.32},{"d":343.5,"v":0.645},{"d":344.9,"v":0.435},{"d":346.3,"v":0.435}],
 "d_line": [{"d":120,"v":0.42,"s":1},{"d":121,"v":0.43,"s":1},{"d":122,"v":0.44,"s":1},{"d":123,"v":0.45,"s":1},{"d":124,"v":0.44,"s":1},{"d":124.5,"v":0.47,"s":1},{"d":125.5,"v":0.46,"s":1},{"d":126.5,"v":0.49,"s":1},{"d":127.5,"v":0.47,"s":1},{"d":128.5,"v":0.45,"s":1},{"d":129.5,"v":0.44,"s":1},{"d":130.5,"v":0.43,"s":1},{"d":131.5,"v":0.47,"s":1},{"d":132.5,"v":0.5,"s":1},{"d":133.5,"v":0.52,"s":1},{"d":134.5,"v":0.55,"s":1},{"d":135.5,"v":0.53,"s":1},{"d":136.5,"v":0.57,"s":1},{"d":137.5,"v":0.6,"s":1},{"d":138.5,"v":0.58,"s":1},{"d":139.5,"v":0.63,"s":1},{"d":140.5,"v":0.66,"s":1},{"d":141.5,"v":0.7,"s":1},{"d":142.5,"v":0.73,"s":1},{"d":143.5,"v":0.76,"s":1},{"d":144.5,"v":0.79,"s":1},{"d":145.5,"v":0.8,"s":1},{"d":146.5,"v":0.82,"s":1},{"d":147.5,"v":0.81,"s":1},{"d":148.5,"v":0.83,"s":1},{"d":149.5,"v":0.82,"s":1},{"d":150.5,"v":0.83,"s":1},
  {"d":158.5,"v":0.86,"s":2},{"d":159.5,"v":0.85,"s":2},{"d":160.5,"v":0.86,"s":2},{"d":161.5,"v":0.84,"s":2},{"d":162.5,"v":0.86,"s":2},{"d":163.5,"v":0.78,"s":2},{"d":164.5,"v":0.86,"s":2},{"d":165.5,"v":0.85,"s":2},{"d":166.5,"v":0.8,"s":2},{"d":167.5,"v":0.86,"s":2},{"d":168.5,"v":0.85,"s":2},{"d":169.5,"v":0.83,"s":2},{"d":170.5,"v":0.86,"s":2},{"d":171.5,"v":0.85,"s":2},{"d":172.5,"v":0.84,"s":2},{"d":173.5,"v":0.86,"s":2},{"d":174,"v":0.85,"s":2},{"d":175,"v":0.86,"s":2},{"d":176,"v":0.87,"s":2},{"d":177,"v":0.86,"s":2},{"d":178,"v":0.87,"s":2},{"d":180,"v":0.86,"s":2},{"d":182,"v":0.87,"s":2},{"d":184,"v":0.86,"s":2},{"d":186,"v":0.87,"s":2},{"d":188,"v":0.86,"s":2},{"d":190,"v":0.87,"s":2},{"d":192,"v":0.86,"s":2},{"d":194,"v":0.87,"s":2},{"d":196,"v":0.86,"s":2},{"d":197,"v":0.8,"s":2},{"d":198,"v":0.87,"s":2},{"d":200,"v":0.86,"s":2},{"d":201,"v":0.84,"s":2},{"d":202,"v":0.87,"s":2},{"d":203,"v":0.8,"s":2},{"d":204,"v":0.87,"s":2},{"d":205,"v":0.86,"s":2},{"d":206,"v":0.7,"s":2},{"d":207,"v":0.86,"s":2},{"d":208,"v":0.87,"s":2},{"d":209,"v":0.78,"s":2},{"d":210,"v":0.86,"s":2},{"d":211,"v":0.75,"s":2},{"d":212,"v":0.86,"s":2},{"d":214,"v":0.87,"s":2},{"d":216,"v":0.86,"s":2},{"d":218,"v":0.87,"s":2},{"d":220,"v":0.86,"s":2},{"d":222,"v":0.86,"s":2},{"d":224,"v":0.87,"s":2},{"d":226,"v":0.86,"s":2},{"d":228,"v":0.86,"s":2},{"d":230,"v":0.865,"s":2},{"d":232,"v":0.86,"s":2},{"d":234,"v":0.86,"s":2},{"d":236,"v":0.86,"s":2},{"d":238,"v":0.85,"s":2},{"d":239.4,"v":0.76,"s":2},{"d":240,"v":0.85,"s":2},{"d":242,"v":0.84,"s":2},{"d":243,"v":0.8,"s":2},{"d":244,"v":0.85,"s":2},{"d":245,"v":0.84,"s":2},{"d":246,"v":0.78,"s":2},{"d":247,"v":0.84,"s":2},{"d":248,"v":0.82,"s":2},{"d":249,"v":0.8,"s":2},{"d":250,"v":0.84,"s":2},{"d":251,"v":0.78,"s":2},{"d":252,"v":0.83,"s":2},{"d":253,"v":0.8,"s":2},{"d":254,"v":0.85,"s":2},{"d":256,"v":0.86,"s":2},{"d":257,"v":0.83,"s":2},{"d":258,"v":0.84,"s":2},{"d":260,"v":0.83,"s":2},{"d":261,"v":0.83,"s":2},{"d":263,"v":0.8,"s":2},{"d":265,"v":0.78,"s":2},{"d":267,"v":0.75,"s":2},{"d":268.8,"v":0.73,"s":2},{"d":270,"v":0.76,"s":2},{"d":272,"v":0.78,"s":2},{"d":274,"v":0.82,"s":2},{"d":277,"v":0.83,"s":2},{"d":279,"v":0.8,"s":2},{"d":281,"v":0.78,"s":2},{"d":283,"v":0.74,"s":2},{"d":285,"v":0.72,"s":2},{"d":286.7,"v":0.7,"s":2},{"d":288,"v":0.69,"s":2},{"d":290.7,"v":0.66,"s":2},{"d":293,"v":0.63,"s":2},{"d":295.4,"v":0.6,"s":2},{"d":297,"v":0.58,"s":2},{"d":299.6,"v":0.55,"s":2},{"d":302,"v":0.52,"s":2},{"d":305,"v":0.49,"s":2},{"d":306,"v":0.47,"s":2},{"d":307,"v":0.48,"s":2},{"d":308,"v":0.45,"s":2},{"d":309,"v":0.47,"s":2},{"d":310,"v":0.44,"s":2},{"d":311,"v":0.46,"s":2},{"d":312,"v":0.43,"s":2},{"d":313,"v":0.45,"s":2},{"d":314,"v":0.42,"s":2},{"d":315,"v":0.47,"s":2},{"d":316,"v":0.44,"s":2},{"d":317,"v":0.41,"s":2},{"d":318,"v":0.46,"s":2},{"d":319,"v":0.43,"s":2},{"d":320,"v":0.45,"s":2},{"d":321,"v":0.41,"s":2},{"d":322,"v":0.44,"s":2},{"d":323.4,"v":0.49,"s":2},{"d":324.8,"v":0.1,"s":2},{"d":326,"v":0.13,"s":2},{"d":327,"v":0.11,"s":2},{"d":328,"v":0.14,"s":2},{"d":329,"v":0.12,"s":2},{"d":330,"v":0.15,"s":2},{"d":331,"v":0.13,"s":2},{"d":332,"v":0.16,"s":2},{"d":333,"v":0.14,"s":2},{"d":334,"v":0.17,"s":2},{"d":335,"v":0.15,"s":2},{"d":336,"v":0.18,"s":2},{"d":337,"v":0.14,"s":2},{"d":338,"v":0.17,"s":2},{"d":339,"v":0.16,"s":2},{"d":340,"v":0.18,"s":2},{"d":341,"v":0.15,"s":2},{"d":342,"v":0.17,"s":2},{"d":343,"v":0.19,"s":2},{"d":344,"v":0.16,"s":2},{"d":345,"v":0.2,"s":2},{"d":346,"v":0.22,"s":2},{"d":347,"v":0.19,"s":2},{"d":348,"v":0.23,"s":2},{"d":349,"v":0.12,"s":2},{"d":350,"v":0.22,"s":2},{"d":351,"v":0.25,"s":2},{"d":352,"v":0.2,"s":2},{"d":353,"v":0.24,"s":2},{"d":354,"v":0.15,"s":2},{"d":355,"v":0.22,"s":2},{"d":356,"v":0.25,"s":2},{"d":357,"v":0.2,"s":2},{"d":358,"v":0.2,"s":2},{"d":359,"v":0.2,"s":2},{"d":360,"v":0.05,"s":2},{"d":361,"v":0.2,"s":2},{"d":362,"v":0.2,"s":2},{"d":363,"v":0.14,"s":2},{"d":364,"v":0.13,"s":2},{"d":365,"v":0.13,"s":2}],
 "e_pts": [{"d":5.2,"v":0.295},{"d":6.3,"v":0.25},{"d":7.7,"v":0.23},{"d":14.2,"v":0.175},{"d":16.4,"v":0.135},{"d":27.8,"v":0.225},{"d":38.8,"v":0.215},{"d":50.5,"v":0.18},{"d":52.5,"v":0.195},{"d":56.7,"v":0.16},{"d":61.2,"v":0.24},{"d":68.4,"v":0.155},{"d":69.3,"v":0.165},{"d":71.5,"v":0.305},{"d":72.7,"v":0.205},{"d":73.5,"v":0.28},{"d":77.9,"v":0.25},{"d":78.8,"v":0.225},{"d":82.5,"v":0.27},{"d":97.3,"v":0.185},{"d":106.2,"v":-0.035},{"d":111.6,"v":-0.095},{"d":112.7,"v":-0.06},{"d":113.6,"v":-0.085},{"d":114.4,"v":-0.085},{"d":116.3,"v":0},{"d":120.2,"v":-0.13},{"d":120.8,"v":-0.12},{"d":121.9,"v":-0.115},{"d":123.6,"v":-0.105},{"d":124.9,"v":-0.13},{"d":127.2,"v":-0.14},{"d":128.3,"v":-0.055},{"d":134.6,"v":-0.07},{"d":136.7,"v":-0.035},{"d":137.3,"v":-0.01},{"d":141.8,"v":0.03},{"d":143.8,"v":0.025},{"d":147.1,"v":0.01},{"d":153,"v":0.08},{"d":167,"v":0.085},{"d":168.1,"v":-0.01},{"d":169.2,"v":0.05},{"d":176.8,"v":0.03},{"d":177.9,"v":0.045},{"d":179,"v":0.04},{"d":183,"v":0.035},{"d":186.5,"v":0.05},{"d":193.9,"v":0.015},{"d":196.9,"v":0.025},{"d":198.6,"v":0.065},{"d":200.6,"v":0.085},{"d":203.4,"v":0.01},{"d":207,"v":0.03},{"d":207.6,"v":0.045},{"d":211.8,"v":0.045},{"d":218.2,"v":0.05},{"d":220.5,"v":0.075},{"d":221.6,"v":0.05},{"d":223.5,"v":0.035},{"d":225.7,"v":0.065},{"d":244.4,"v":0.026},{"d":245,"v":0.04},{"d":251.4,"v":0.036},{"d":252.8,"v":-0.008},{"d":254,"v":0.015},{"d":255.6,"v":0.05},{"d":257,"v":0.008},{"d":259,"v":0.005},{"d":275.1,"v":0.043},{"d":277.4,"v":-0.01},{"d":278.5,"v":-0.015},{"d":283.5,"v":-0.03},{"d":289.6,"v":-0.01},{"d":291.3,"v":-0.09},{"d":293.3,"v":0.015},{"d":303,"v":-0.078},{"d":310,"v":-0.17},{"d":310.5,"v":-0.06},{"d":317,"v":-0.055},{"d":317.5,"v":-0.095},{"d":328.7,"v":0.205},{"d":333.1,"v":-0.005},{"d":334,"v":0.02},{"d":336.5,"v":-0.09},{"d":338.4,"v":-0.045},{"d":342,"v":0.147},{"d":343.5,"v":-0.045},{"d":346.3,"v":-0.07}],
 "e_line": [{"d":120,"v":-0.12,"s":1},{"d":121,"v":-0.13,"s":1},{"d":122,"v":-0.12,"s":1},{"d":123,"v":-0.13,"s":1},{"d":124,"v":-0.12,"s":1},{"d":124.5,"v":-0.11,"s":1},{"d":125.5,"v":-0.12,"s":1},{"d":126.5,"v":-0.1,"s":1},{"d":127.5,"v":-0.09,"s":1},{"d":128.5,"v":-0.11,"s":1},{"d":129.5,"v":-0.08,"s":1},{"d":130.5,"v":-0.1,"s":1},{"d":131.5,"v":-0.07,"s":1},{"d":132.5,"v":-0.09,"s":1},{"d":133.5,"v":-0.05,"s":1},{"d":134.5,"v":-0.08,"s":1},{"d":135.5,"v":-0.03,"s":1},{"d":136.5,"v":-0.06,"s":1},{"d":137.5,"v":-0.02,"s":1},{"d":138.5,"v":-0.04,"s":1},{"d":139.5,"v":-0.03,"s":1},{"d":140.5,"v":-0.01,"s":1},{"d":141.5,"v":0,"s":1},{"d":142.5,"v":0.03,"s":1},{"d":143.5,"v":0.02,"s":1},{"d":144.5,"v":0.05,"s":1},{"d":145.5,"v":0.09,"s":1},{"d":146.5,"v":0.05,"s":1},{"d":147.5,"v":0.06,"s":1},{"d":148.5,"v":0.08,"s":1},{"d":149.5,"v":0.07,"s":1},{"d":150.5,"v":0.08,"s":1},
  {"d":158.5,"v":0.06,"s":2},{"d":159.5,"v":0.07,"s":2},{"d":160.5,"v":0.05,"s":2},{"d":161.5,"v":0.08,"s":2},{"d":162.5,"v":0.09,"s":2},{"d":163.5,"v":0.06,"s":2},{"d":164.5,"v":0.07,"s":2},{"d":165.5,"v":0.05,"s":2},{"d":166.5,"v":0.08,"s":2},{"d":167.5,"v":0.1,"s":2},{"d":168.5,"v":0.09,"s":2},{"d":169.5,"v":0.07,"s":2},{"d":170.5,"v":0.08,"s":2},{"d":171.5,"v":0.06,"s":2},{"d":172.5,"v":0.07,"s":2},{"d":173.5,"v":0.05,"s":2},{"d":174,"v":0.06,"s":2},{"d":175,"v":0.04,"s":2},{"d":176,"v":0.05,"s":2},{"d":177,"v":0.06,"s":2},{"d":178,"v":0.05,"s":2},{"d":179,"v":0.07,"s":2},{"d":180,"v":0.04,"s":2},{"d":181,"v":0.06,"s":2},{"d":182,"v":0.04,"s":2},{"d":183,"v":0.05,"s":2},{"d":184,"v":0.07,"s":2},{"d":185,"v":0.13,"s":2},{"d":186,"v":0.06,"s":2},{"d":187,"v":0.04,"s":2},{"d":188,"v":0.05,"s":2},{"d":189,"v":0.04,"s":2},{"d":190,"v":0.06,"s":2},{"d":191,"v":0.04,"s":2},{"d":192,"v":0.05,"s":2},{"d":193,"v":0.06,"s":2},{"d":194,"v":0.03,"s":2},{"d":195,"v":0.05,"s":2},{"d":196,"v":0.1,"s":2},{"d":197,"v":0.04,"s":2},{"d":198,"v":0.06,"s":2},{"d":199,"v":0.03,"s":2},{"d":200,"v":0.1,"s":2},{"d":201,"v":0.05,"s":2},{"d":202,"v":0.03,"s":2},{"d":203,"v":0.06,"s":2},{"d":204,"v":0.04,"s":2},{"d":205,"v":0.05,"s":2},{"d":206,"v":0.06,"s":2},{"d":207,"v":0.04,"s":2},{"d":208,"v":0.05,"s":2},{"d":210,"v":0.06,"s":2},{"d":212,"v":0.05,"s":2},{"d":214,"v":0.04,"s":2},{"d":216,"v":0.05,"s":2},{"d":218,"v":0.06,"s":2},{"d":220,"v":0.05,"s":2},{"d":222,"v":0.04,"s":2},{"d":224,"v":0.05,"s":2},{"d":226,"v":0.06,"s":2},{"d":228,"v":0.05,"s":2},{"d":230,"v":0.045,"s":2},{"d":232,"v":0.05,"s":2},{"d":234,"v":0.04,"s":2},{"d":236,"v":0.055,"s":2},{"d":238,"v":0.045,"s":2},{"d":240,"v":0.05,"s":2},{"d":242,"v":0.04,"s":2},{"d":243,"v":0.097,"s":2},{"d":244,"v":0.03,"s":2},{"d":245,"v":0.06,"s":2},{"d":246,"v":0.03,"s":2},{"d":247,"v":0.05,"s":2},{"d":248,"v":0.02,"s":2},{"d":249,"v":0.04,"s":2},{"d":250,"v":0.035,"s":2},{"d":251,"v":0,"s":2},{"d":252,"v":0.04,"s":2},{"d":253,"v":0.02,"s":2},{"d":254,"v":0.05,"s":2},{"d":255,"v":0.01,"s":2},{"d":256,"v":0.03,"s":2},{"d":257,"v":0,"s":2},{"d":258,"v":0.02,"s":2},{"d":260,"v":0.01,"s":2},{"d":262,"v":0.04,"s":2},{"d":263,"v":0.03,"s":2},{"d":264,"v":0,"s":2},{"d":266,"v":0.005,"s":2},{"d":268,"v":0,"s":2},{"d":270,"v":0.005,"s":2},{"d":272,"v":0,"s":2},{"d":272.9,"v":0.09,"s":2},{"d":274,"v":0,"s":2},{"d":275,"v":0,"s":2},{"d":277,"v":-0.01,"s":2},{"d":279,"v":0,"s":2},{"d":281,"v":-0.02,"s":2},{"d":283,"v":-0.03,"s":2},{"d":285,"v":-0.02,"s":2},{"d":287,"v":-0.04,"s":2},{"d":289,"v":-0.05,"s":2},{"d":291,"v":-0.04,"s":2},{"d":293,"v":-0.07,"s":2},{"d":295,"v":-0.06,"s":2},{"d":297,"v":-0.09,"s":2},{"d":299,"v":-0.08,"s":2},{"d":301,"v":-0.11,"s":2},{"d":303,"v":-0.06,"s":2},{"d":304,"v":-0.1,"s":2},{"d":306,"v":-0.12,"s":2},{"d":307,"v":-0.11,"s":2},{"d":308,"v":-0.15,"s":2},{"d":309,"v":-0.13,"s":2},{"d":310,"v":-0.17,"s":2},{"d":311,"v":-0.14,"s":2},{"d":312,"v":-0.16,"s":2},{"d":313,"v":-0.1,"s":2},{"d":314,"v":-0.07,"s":2},{"d":315,"v":-0.13,"s":2},{"d":316,"v":-0.16,"s":2},{"d":317,"v":-0.09,"s":2},{"d":318,"v":-0.15,"s":2},{"d":319,"v":-0.12,"s":2},{"d":320,"v":-0.16,"s":2},{"d":321,"v":-0.16,"s":2},{"d":322,"v":-0.15,"s":2},{"d":322.5,"v":0.11,"s":2},{"d":324,"v":0.13,"s":2},{"d":325,"v":0.12,"s":2},{"d":326,"v":0.135,"s":2},{"d":327,"v":0.12,"s":2},{"d":328,"v":0.13,"s":2},{"d":329,"v":0.12,"s":2},{"d":330,"v":0.135,"s":2},{"d":331,"v":0.12,"s":2},{"d":332,"v":0.16,"s":2},{"d":333.7,"v":0.02,"s":2},{"d":335,"v":0.08,"s":2},{"d":336,"v":0.04,"s":2},{"d":337,"v":0.07,"s":2},{"d":338,"v":0.03,"s":2},{"d":339,"v":0.1,"s":2},{"d":340.7,"v":0.11,"s":2},{"d":342,"v":0.14,"s":2},{"d":343,"v":0.05,"s":2},{"d":344,"v":0,"s":2},{"d":345,"v":0.06,"s":2},{"d":346,"v":0.03,"s":2},{"d":347.6,"v":0.07,"s":2},{"d":349,"v":0,"s":2},{"d":350,"v":-0.07,"s":2},{"d":351,"v":0.02,"s":2},{"d":352,"v":0.05,"s":2},{"d":353,"v":-0.02,"s":2},{"d":354.6,"v":-0.03,"s":2},{"d":356,"v":0.14,"s":2},{"d":357,"v":0.05,"s":2},{"d":358,"v":0.1,"s":2},{"d":359,"v":0.08,"s":2},{"d":360,"v":0.22,"s":2},{"d":361,"v":0.16,"s":2},{"d":362,"v":0.18,"s":2},{"d":363,"v":0.1,"s":2},{"d":364,"v":0.12,"s":2},{"d":365,"v":0.1,"s":2}]
}
}
